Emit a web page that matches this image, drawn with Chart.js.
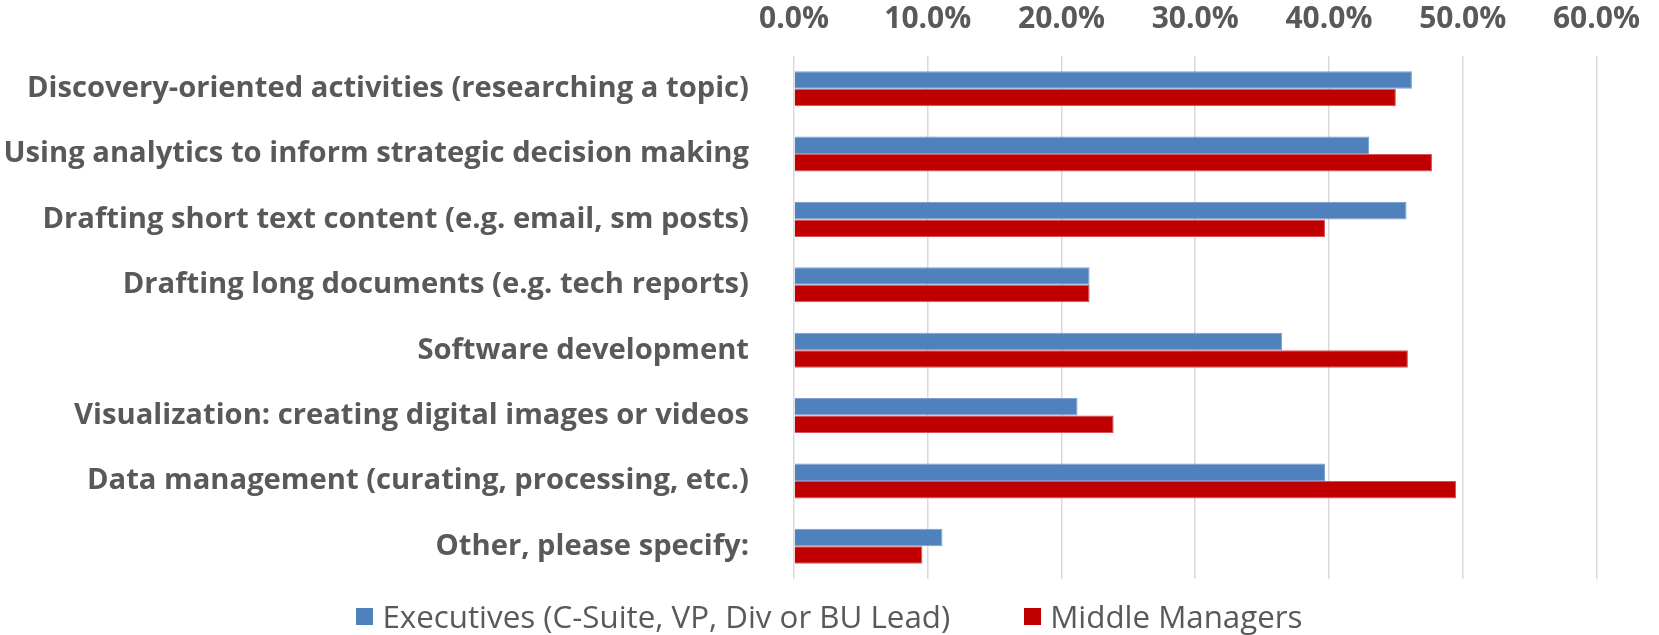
<html>

<head>
    <script src="https://cdn.jsdelivr.net/npm/chart.js@4"></script>

    <style>
        body {
            margin: 0;
            background-color: #ffffff;
        }

        #wrap {
            position: relative;
            width: 1659px;
            height: 635px;
        }

        #legend {
            position: absolute;
            left: 0;
            top: 600px;
            width: 1659px;
            display: flex;
            justify-content: center;
            align-items: center;
            font-family: 'Open Sans', sans-serif;
            color: #595959;
            white-space: nowrap;
        }

        .item {
            display: flex;
            align-items: center;
            margin: 0 37px;
        }

        .swatch {
            width: 17px;
            height: 17px;
            margin-right: 9px;
        }
    </style>
</head>

<body>
    <div id="wrap">
        <canvas id="myChart" width="1659" height="635"></canvas>
        <div id="legend"></div>
    </div>
</body>
<script>

    // categories, top to bottom
    var activities = [
        'Discovery-oriented activities (researching a topic)',
        'Using analytics to inform strategic decision making',
        'Drafting short text content (e.g. email, sm posts)',
        'Drafting long documents (e.g. tech reports)',
        'Software development',
        'Visualization: creating digital images or videos',
        'Data management (curating, processing, etc.)',
        'Other, please specify:'
    ];

    // percent of respondents
    var executives = [46.2, 43.0, 45.8, 22.1, 36.5, 21.2, 39.7, 11.1];
    var middleManagers = [45.0, 47.7, 39.7, 22.1, 45.9, 23.9, 49.5, 9.6];

    var seriesNames = ['Executives (C-Suite, VP, Div or BU Lead)', 'Middle Managers'];
    var seriesColors = ['#4F81BD', '#C00000'];
    var seriesEdges = ['#7A9FD0', '#D9535A'];

    var axisMax = 60;
    var axisStep = 10;

    var textGrey = '#595959';

    // the original text is wide for its height, so pick sizes by width
    var measureCtx = document.createElement('canvas').getContext('2d');
    function fitSize(text, weight, targetWidth) {
        measureCtx.font = weight + ' 100px "Open Sans"';
        var w = measureCtx.measureText(text).width;
        return Math.round(100 * targetWidth / w * 10) / 10;
    }

    var labelSize = fitSize(activities[1], 'bold', 746);
    var tickSize = fitSize('10.0%', 'bold', 87);
    var legendSize = fitSize(seriesNames[0], 'normal', 567);

    function drawMyChart() {
        var paintingCanvas = document.getElementById('myChart').getContext('2d');
        var chart = new Chart(paintingCanvas, {
            type: 'bar',
            data: {
                labels: activities,
                datasets: [
                    {
                        label: seriesNames[0],
                        backgroundColor: seriesColors[0],
                        borderColor: seriesEdges[0],
                        borderWidth: 1,
                        data: executives
                    },
                    {
                        label: seriesNames[1],
                        backgroundColor: seriesColors[1],
                        borderColor: seriesEdges[1],
                        borderWidth: 1,
                        data: middleManagers
                    }
                ]
            },
            options: {
                indexAxis: 'y',
                responsive: false,
                animation: false,
                categoryPercentage: 0.535,
                barPercentage: 1.0,
                layout: {
                    padding: { top: 0, right: 58, bottom: 56, left: 0 }
                },
                plugins: {
                    legend: { display: false },
                    tooltip: { enabled: false }
                },
                scales: {
                    x: {
                        position: 'top',
                        min: 0,
                        max: axisMax,
                        afterFit: function (scale) { scale.height = 56; },
                        ticks: {
                            stepSize: axisStep,
                            padding: Math.round(56 - 0.6 * tickSize - (27 - 0.26 * tickSize)),
                            color: textGrey,
                            font: { family: 'Open Sans', size: tickSize, weight: 'bold' },
                            callback: function (v) { return v.toFixed(1) + '%'; }
                        },
                        grid: { color: '#d9d9d9', lineWidth: 1.5, drawTicks: false },
                        border: { display: false }
                    },
                    y: {
                        afterFit: function (scale) { scale.width = 794; },
                        ticks: {
                            padding: 37,
                            color: textGrey,
                            font: { family: 'Open Sans', size: labelSize, weight: 'bold' }
                        },
                        grid: { display: false },
                        border: { display: false }
                    }
                }
            }
        });
    }

    function drawLegend() {
        var box = document.getElementById('legend');
        box.style.fontSize = legendSize + 'px';
        box.style.top = Math.round(628 - 1.069 * legendSize) + 'px';
        for (var i = 0; i < seriesNames.length; i++) {
            var item = document.createElement('div');
            item.className = 'item';
            var sw = document.createElement('span');
            sw.className = 'swatch';
            sw.style.backgroundColor = seriesColors[i];
            var txt = document.createElement('span');
            txt.textContent = seriesNames[i];
            item.appendChild(sw);
            item.appendChild(txt);
            box.appendChild(item);
        }
    }

    drawLegend();
    drawMyChart();

</script>

</html>
